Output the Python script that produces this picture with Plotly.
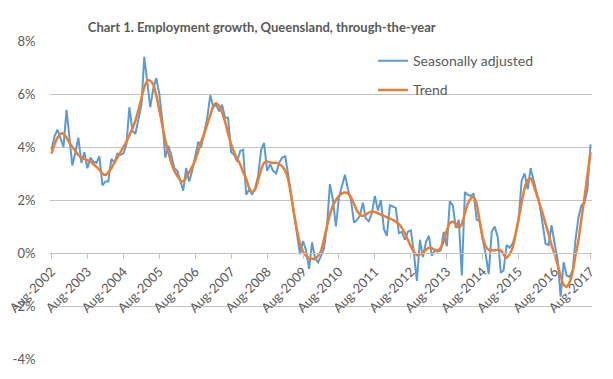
import pandas as pd
import plotly.graph_objects as go

start_month = "2002-08-01"
n_months = 181

seasonally_adjusted = [
    3.9, 4.4, 4.65, 4.3, 4.0, 5.4, 4.2, 3.3, 3.8, 4.35,
    3.4, 3.8, 3.2, 3.6, 3.45, 3.4, 3.65, 2.55, 2.7, 2.7,
    3.55, 3.4, 3.75, 3.7, 3.75, 4.1, 5.5, 4.6, 4.5, 5.1,
    5.6, 7.4, 6.4, 5.5, 6.2, 6.6, 6.0, 5.0, 3.6, 4.05,
    3.7, 3.2, 3.1, 2.7, 2.35, 3.2, 2.7, 3.1, 3.6, 4.2,
    4.0, 4.6, 5.1, 5.95, 5.5, 5.6, 5.35, 5.6, 5.1, 5.1,
    3.8, 3.7, 3.45, 3.85, 3.9, 2.2, 2.4, 2.2, 2.45, 2.9,
    3.9, 4.15, 3.1, 3.35, 3.1, 3.0, 3.4, 3.6, 3.65, 3.0,
    2.2, 1.4, 0.6, -0.05, 0.45, 0.1, -0.6, 0.4, -0.2, -0.35,
    -0.1, 0.15, 1.0, 2.6, 2.0, 1.0, 2.1, 2.5, 2.95, 2.4,
    2.0, 1.15, 1.25, 1.4, 1.9, 1.3, 1.2, 1.5, 2.15, 1.6,
    2.0, 0.9, 0.65, 1.8, 1.75, 1.7, 0.75, 0.8, 0.5, 0.8,
    0.85, 0.0, -1.05, 0.5, -0.15, 0.4, 0.65, -0.1, 0.1, 0.05,
    0.1, 0.8, 0.25, 1.95, 1.8, 0.95, 1.25, -0.85, 2.3, 2.2,
    2.15, 2.25, 1.25, 1.2, 0.5, -0.05, -0.8, 0.8, 1.0, 0.6,
    -0.75, -0.65, 0.3, 0.2, 0.35, 0.7, 1.25, 2.75, 3.0, 2.4,
    3.2, 2.7, 2.2, 1.85, 1.1, 0.35, 0.3, 1.05, 0.35, -0.25,
    -1.65, -0.35, -0.85, -0.9, -0.65, 0.5, 1.35, 1.8, 1.9, 2.4,
    4.1,
]

trend = [
    3.75, 4.1, 4.35, 4.5, 4.5, 4.35, 4.15, 4.0, 3.85, 3.7,
    3.6, 3.55, 3.5, 3.45, 3.35, 3.25, 3.15, 3.0, 2.94, 3.05,
    3.2, 3.4, 3.6, 3.8, 4.0, 4.2, 4.45, 4.7, 5.0, 5.4,
    5.85, 6.25, 6.5, 6.5, 6.35, 5.95, 5.4, 4.8, 4.25, 3.8,
    3.4, 3.1, 2.9, 2.75, 2.7, 2.85, 3.05, 3.25, 3.5, 3.85,
    4.2, 4.5, 4.85, 5.2, 5.55, 5.65, 5.55, 5.3, 4.95, 4.5,
    4.1, 3.8, 3.55, 3.35, 3.05, 2.8, 2.45, 2.3, 2.4, 2.75,
    3.15, 3.4, 3.45, 3.42, 3.4, 3.4, 3.35, 3.28, 3.1, 2.8,
    2.2, 1.5, 0.85, 0.35, 0.05, -0.1, -0.2, -0.22, -0.22, -0.1,
    0.1, 0.5, 1.0, 1.45, 1.8, 2.0, 2.15, 2.25, 2.28, 2.25,
    2.1, 1.85, 1.6, 1.45, 1.4, 1.45, 1.52, 1.56, 1.55, 1.5,
    1.45, 1.4, 1.35, 1.3, 1.25, 1.18, 1.1, 0.95, 0.75, 0.5,
    0.25, 0.05, -0.08, -0.05, 0.02, 0.12, 0.2, 0.18, 0.12, 0.1,
    0.2, 0.45, 0.85, 1.13, 1.18, 1.1, 0.95, 1.1, 1.5, 1.85,
    2.05, 2.12, 1.85, 1.2, 0.6, 0.25, 0.12, 0.1, 0.1, 0.12,
    0.1, -0.05, -0.18, -0.05, 0.2, 0.7, 1.3, 1.9, 2.45, 2.75,
    2.82, 2.55, 2.2, 1.85, 1.5, 1.1, 0.7, 0.3, -0.05, -0.45,
    -0.85, -1.2, -1.27, -1.1, -0.7, -0.1, 0.5, 1.3, 2.1, 2.95,
    3.8,
]

series_names = ["Seasonally adjusted", "Trend"]
y_ticks = [-4, -2, 0, 2, 4, 6, 8]
y_tick_labels = ["-4%", "-2%", "0%", "2%", "4%", "6%", "8%"]
title_text = "Chart 1. Employment growth, Queensland, through-the-year"

dates = pd.date_range(start_month, periods=n_months, freq="MS")

FONT = "Lato"
GREY = "#595959"
GRID = "#C4C4C4"
x_range = [pd.Timestamp("2002-07-17"), pd.Timestamp("2017-08-16")]

fig = go.Figure()
fig.add_trace(go.Scatter(
    x=dates, y=seasonally_adjusted, mode="lines", name=series_names[0],
    line=dict(color="#5B9BD5", width=2), legendgroup="a",
))
fig.add_trace(go.Scatter(
    x=dates, y=trend, mode="lines", name=series_names[1],
    line=dict(color="#ED7D31", width=2.5, shape="spline", smoothing=0.6),
    legendgroup="b",
))

fig.update_layout(
    width=613, height=379,
    margin=dict(l=50, r=21, t=41, b=20, autoexpand=False),
    paper_bgcolor="white", plot_bgcolor="white",
    font=dict(family=FONT, color=GREY, size=13),
    title=dict(text="<b>" + title_text + "</b>", x=0.427, xanchor="center",
               y=0.927, yanchor="middle",
               font=dict(family=FONT, size=13, color=GREY)),
    legend=dict(x=0.596, y=0.987, xanchor="left", yanchor="top",
                bgcolor="rgba(0,0,0,0)", tracegroupgap=8,
                font=dict(family=FONT, size=14, color=GREY)),
    showlegend=True,
    xaxis=dict(
        type="date", range=x_range, automargin=False,
        tick0="2002-08-01", dtick="M12", tickformat="%b-%Y",
        tickangle=-45, anchor="free", position=1/3, side="bottom",
        showgrid=False, zeroline=False,
        showline=True, linecolor=GRID, linewidth=1,
        ticks="outside", ticklen=5, tickcolor=GRID,
        tickfont=dict(family=FONT, size=13, color=GREY),
    ),
    yaxis=dict(
        range=[-4, 8], tickmode="array", tickvals=y_ticks, ticktext=y_tick_labels,
        automargin=False, anchor="free", position=0,
        showgrid=True, gridcolor=GRID, gridwidth=1,
        zeroline=False, showline=False, ticks="outside", ticklen=12,
        tickcolor="rgba(0,0,0,0)",
        tickfont=dict(family=FONT, size=13, color=GREY),
    ),
)

fig.write_html("out.html", config={"displayModeBar": False},
               post_script="document.body.style.margin='0';")
